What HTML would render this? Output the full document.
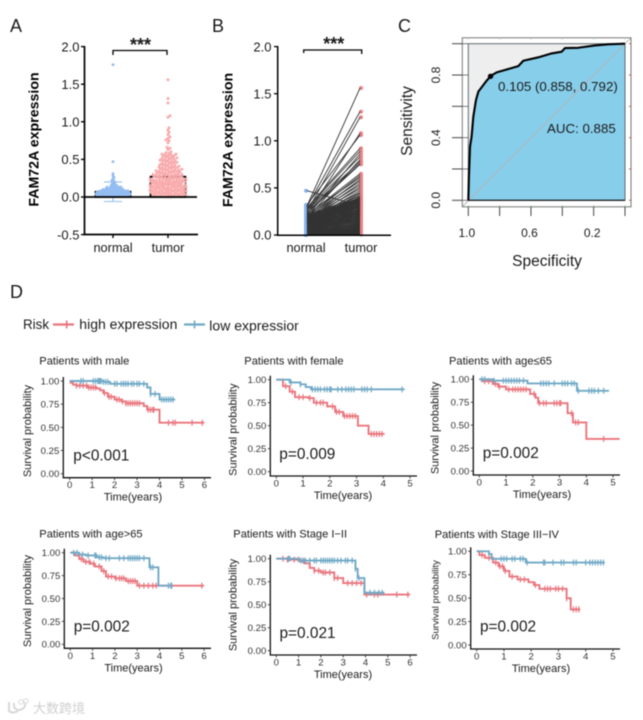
<!DOCTYPE html>
<html lang="en">
<head>
<meta charset="utf-8">
<title>FAM72A expression figure</title>
<style>
html,body{margin:0;padding:0;background:#fff;width:643px;height:720px;overflow:hidden}
svg{display:block;filter:blur(0.45px)}
text{font-family:"Liberation Sans","Noto Sans CJK SC",sans-serif;fill:#1a1a1a}
</style>
</head>
<body>
<svg id="figure" xmlns="http://www.w3.org/2000/svg" width="643" height="720" viewBox="0 0 643 720"></svg>
<script>
/* Panel A */
const groupLabelsA = ['normal', 'tumor'];
const tickLabelsA = ['-0.5', '0.0', '0.5', '1.0', '1.5', '2.0'];
const barMeansA = [0.07, 0.27];
const normalErrorA = [-0.06, 0.20];
const normalValuesA = [1.76,.47,.31,.28,.26,.24,.22,.21,.19,.18,.17,.16,.15,.15,.14,.14,.13,.13,.13,.12,.12,.12,.12,.11,.11,.11,.11,.10,.10,.10,.10,.10,.09,.09,.09,.09,.09,.09,.08,.08,.08,.08,.08,.08,.08,.07,.07,.07,.07,.07,.07,.07,.07,.06,.06,.06,.06,.06,.06,.06,.06,.06,.05,.05,.05,.05,.05,.05,.05,.05,.05,.05,.04,.04,.04,.04,.04,.04,.04,.04,.04,.04,.04,.03,.03,.03,.03,.03,.03,.03,.03,.03,.03,.03,.03,.02,.02,.02,.02,.02,.02,.02,.02,.02,.02,.02,.02,.02,.01,.01,.01,.01,.01,.01,.01,.01,.01,.01,.01,.01,.01,.01];
const tumorValuesA = [1.56,1.31,1.25,1.08,1.06,.92,.89,.86,.83,.80,.78,.76,.75,.72,.66,.65,.63,.60,.59,.58,.57,.57,.56,.56,.55,.55,.54,.53,.53,.52,.52,.51,.51,.50,.50,.49,.49,.48,.48,.47,.47,.46,.46,.45,.45,.44,.44,.43,.43,.42,.42,.41,.41,.41,.40,.40,.39,.39,.39,.38,.38,.37,.37,.37,.36,.36,.36,.35,.35,.35,.34,.34,.34,.33,.33,.33,.32,.32,.32,.31,.31,.31,.30,.30,.30,.30,.29,.29,.29,.28,.28,.28,.28,.27,.27,.27,.26,.26,.26,.26,.25,.25,.25,.25,.24,.24,.24,.24,.23,.23,.23,.23,.22,.22,.22,.22,.21,.21,.21,.21,.20,.20,.20,.20,.20,.19,.19,.19,.19,.18,.18,.18,.18,.18,.17,.17,.17,.17,.16,.16,.16,.16,.16,.15,.15,.15,.15,.15,.14,.14,.14,.14,.14,.13,.13,.13,.13,.13,.12,.12,.12,.12,.12,.11,.11,.11,.11,.11,.10,.10,.10,.10,.10,.09,.09,.09,.09,.09,.08,.08,.08,.08,.08,.07,.07,.07,.07,.06,.06,.06,.06,.06,.05,.05,.05,.05,.04,.04,.04,.04,.03,.03,.03,.03,.02,.02,.02,.02,.01,.01,.01,.01,.00,.00,.00];

/* Panel B */
const groupLabelsB = ['normal', 'tumor'];
const tickLabelsB = ['0.0', '0.5', '1.0', '1.5', '2.0'];
const pairedNormalB = [.31,.30,.25,.22,.32,.29,.28,.20,.27,.18,.26,.24,.23,.21,.19,.22,.17,.20,.16,.19,.15,.18,.14,.17,.13,.16,.47,.21,.15,.20,.14,.19,.13,.18,.12,.17,.20,.11,.16,.19,.10,.15,.18,.12,.14,.17,.09,.13,.16,.11,.12,.15,.08,.14,.10,.13,.16,.07,.12,.15,.09,.11,.14,.06,.10,.13,.08,.12,.05,.09,.11,.07,.10,.13,.04,.08,.12,.06,.09,.11,.05,.08,.10,.03,.07,.09,.04,.06,.08,.02,.07,.05,.06,.03,.04,.05,.02,.04,.03,.02,.03,.01,.02,.03,.01,.02,.01,.015,.01,.005,.01,.005,.00,.005,.00,.00,.01,.00,.005,.00];
const pairedTumorB = [1.56,1.31,1.25,1.08,1.06,.92,.89,.86,.83,.80,.78,.76,.75,.65,.63,.61,.59,.57,.55,.53,.51,.49,.47,.45,.44,.42,.31,.41,.40,.396,.392,.388,.384,.38,.376,.372,.368,.364,.36,.356,.352,.348,.344,.34,.336,.332,.328,.324,.32,.316,.312,.308,.304,.30,.296,.292,.288,.284,.28,.276,.272,.268,.264,.26,.256,.252,.248,.244,.24,.236,.232,.228,.224,.22,.216,.212,.208,.204,.20,.196,.192,.188,.184,.18,.176,.172,.168,.164,.16,.155,.15,.145,.14,.135,.13,.125,.12,.115,.11,.105,.10,.095,.09,.085,.08,.075,.07,.065,.06,.055,.05,.045,.04,.035,.03,.025,.02,.015,.01,.005];

/* Panel C */
const specTickLabels = ['1.0', '0.6', '0.2'];
const sensTickLabels = ['0.0', '0.4', '0.8'];
const specTicks = [1, .8, .6, .4, .2, 0];
const sensTicks = [0, .2, .4, .6, .8, 1];
const rocSpecificity = [1,.996,.989,.979,.968,.951,.936,.904,.883,.855,.819,.766,.681,.649,.553,.468,.404,.383,.298,.191,.106,0];
const rocSensitivity = [0,.151,.343,.406,.534,.64,.694,.736,.764,.796,.817,.832,.857,.891,.913,.938,.949,.972,.974,.989,.996,1];
const bestPoint = [0.858, 0.792];

/* Panel D: survival series */
const kmYLabels = ['0.00', '0.25', '0.50', '0.75', '1.00'];
const maleHighT = [.05,.15,.3,.8,1.2,1.35,1.5,1.7,2,2.3,2.5,3.3,3.45,4];
const maleHighS = [.98,.96,.95,.93,.92,.90,.87,.83,.80,.78,.76,.73,.69,.55];
const maleHighCens = [.3,.45,.6,.75,.85,.95,1.05,1.15,1.55,1.75,1.85,2.1,2.2,2.35,2.5,2.6,2.7,2.8,2.9,3.0,3.1,3.5,3.6,3.7,3.75,4.4,4.6,4.7,5.45,5.9];
const maleLowT = [1.5,1.8,3.45,3.6,3.75,4.0];
const maleLowS = [.99,.97,.93,.86,.86,.80];
const maleLowCens = [.5,.6,1.05,1.15,1.25,1.3,1.35,1.4,1.5,1.6,1.7,2.0,2.1,2.3,2.4,2.5,2.6,2.75,2.85,3.0,3.1,3.3,3.6,3.8,4.1,4.2,4.3,4.4,4.5,4.6];
const femaleHighT = [.25,.5,.7,1.2,1.4,1.9,2.2,2.5,3.05,3.45];
const femaleHighS = [.93,.87,.81,.80,.75,.71,.65,.605,.50,.41];
const femaleHighCens = [.35,.6,.85,1,1.25,1.5,1.65,1.75,2.1,2.25,2.35,2.55,2.65,2.75,2.85,2.95,3.55,3.65,3.75,3.85,3.95];
const femaleLowT = [.5,.9,1.1,1.3];
const femaleLowS = [.97,.95,.92,.895];
const femaleLowCens = [.55,.9,1.35,1.45,1.55,1.65,1.8,1.9,2.0,2.05,2.3,2.45,2.6,2.7,2.8,2.9,3.2,3.3,3.4,3.55,4.7];
const youngHighT = [.1,.5,.7,1,1.9,2.1,2.2,3.3,3.5,4];
const youngHighS = [.98,.95,.92,.89,.84,.80,.74,.63,.53,.35];
const youngHighCens = [.2,.35,.6,.75,1.1,1.25,1.35,1.45,1.55,1.65,1.75,2.05,2.25,2.4,2.5,2.8,2.9,3,3.05,3.45,3.6,3.7,4.65];
const youngLowT = [.5,1.8,3.65];
const youngLowS = [.985,.955,.875];
const youngLowCens = [.1,.2,.55,.9,1,1.1,1.2,1.3,1.4,1.5,1.65,2.3,2.4,2.5,2.6,2.8,3.1,3.2,3.3,3.45,3.55,3.7,4.1,4.2,4.3,4.45,4.65];
const oldHighT = [.2,.4,.6,.9,1.1,1.4,1.6,2,2.5,3];
const oldHighS = [.97,.93,.90,.88,.85,.80,.74,.72,.69,.64];
const oldHighCens = [.5,.7,.85,1.05,1.3,1.5,1.7,1.85,2.05,2.2,2.3,2.4,2.6,2.7,2.8,2.9,3.1,3.3,3.5,3.7,3.85,5.9];
const oldLowT = [.4,.7,1.2,1.5,3.55,3.95];
const oldLowS = [.98,.97,.95,.94,.84,.64];
const oldLowCens = [.15,.3,.55,.8,1.1,1.15,1.3,1.4,1.6,1.75,2.2,2.4,2.6,2.7,2.8,2.9,3,3.1,3.3,3.6,3.7,4.4,4.5,4.55];
const earlyHighT = [.5,1.1,1.3,1.5,1.7,2,2.6,3,3.95];
const earlyHighS = [.99,.97,.95,.90,.87,.85,.79,.735,.61];
const earlyHighCens = [.3,.5,.8,1,1.25,1.7,1.9,2.1,2.2,2.4,2.6,2.75,3.2,3.4,3.6,3.8,4.05,4.4,4.55,5.4,5.9];
const earlyLowT = [1,3.55,3.65,3.95];
const earlyLowS = [.98,.89,.79,.63];
const earlyLowCens = [.55,.6,1.1,1.2,1.3,1.5,1.7,1.8,2,2.1,2.2,2.3,2.4,2.5,2.6,2.75,2.9,3.1,3.2,3.4,3.55,3.7,4.2,4.4,4.6,4.75];
const lateHighT = [.1,.3,.6,.8,1,1.2,1.5,1.9,2.1,2.3,3.3,3.45];
const lateHighS = [.96,.93,.88,.84,.79,.73,.70,.67,.64,.60,.50,.38];
const lateHighCens = [.2,.45,.7,.85,.95,1.05,1.3,1.6,1.75,2.15,2.5,2.6,2.7,2.9,3.0,3.15,3.3,3.55,3.65,3.75];
const lateLowT = [.45,.55,1.8];
const lateLowS = [.97,.92,.88];
const lateLowCens = [.9,1,1.1,1.3,1.4,1.6,1.7,1.85,2.45,2.5,2.8,3.1,3.2,3.55,3.65,4,4.15,4.25,4.35,4.45,4.55,4.65];

const svg = document.getElementById('figure');
const NS = 'http://www.w3.org/2000/svg';
const RED = '#e9757e', BLUE = '#70a9c6';

function make(tag, attrs, parent, content) {
  const e = document.createElementNS(NS, tag);
  for (const k in attrs) e.setAttribute(k, attrs[k]);
  if (content !== undefined) e.textContent = content;
  (parent || svg).appendChild(e);
  return e;
}
function line(x1, y1, x2, y2, stroke, w, parent) {
  return make('line', {x1, y1, x2, y2, stroke, 'stroke-width': w}, parent);
}
function label(str, x, y, size, parent, anchor, extra) {
  return make('text', Object.assign({x, y, 'font-size': size, 'text-anchor': anchor || 'start'}, extra || {}), parent, str);
}
function rotLabel(str, x, y, size, parent, extra) {
  return make('text', Object.assign({x, y, 'font-size': size, 'text-anchor': 'middle', transform: `rotate(-90 ${x} ${y})`}, extra || {}), parent, str);
}
function group(parent) { return make('g', {}, parent); }

/* Panel letters */
[['A', 10, 32], ['B', 212, 32], ['C', 398, 32], ['D', 10, 298]].forEach(p => {
  const t = label(p[0], p[1], p[2], 18);
  
  
});

function swarm(values, cx, yFn, maxW, parent, color, name, gap) {
  const placed = [];
  const sorted = values.slice().sort((a, b) => a - b);
  sorted.forEach(v => {
    const y = yFn(v);
    let chosen = 0;
    for (let k = 0; k < 60; k++) {
      const off = (k % 2 ? 1 : -1) * Math.ceil(k / 2) * 1.0;
      if (Math.abs(off) > maxW) { break; }
      const hit = placed.some(p => Math.hypot(p[0] - off, p[1] - y) < gap);
      if (!hit) { chosen = off; break; }
    }
    placed.push([chosen, y]);
    const c = make('circle', {cx: cx + chosen, cy: y, r: 1.45, fill: color}, parent);
    
    
  });
}

/* ---------- Panel A ---------- */
(function () {
  const g = group();
  
  
  const y = v => 197 - v * 75.2;
  const cx = [113, 168];
  const colors = ['#93bdf1', '#f9a9aa'];
  barMeansA.forEach((m, i) => {
    const b = make('rect', {x: cx[i] - 17.5, y: y(m), width: 35, height: y(0) - y(m), fill: 'none', stroke: '#000', 'stroke-width': 1.7}, g);
    
    
  });
  swarm(tumorValuesA, cx[1], y, 18, g, colors[1], 'tumor-point', 2.3);
  swarm(normalValuesA, cx[0], y, 17, g, colors[0], 'normal-point', 1.8);
  const eb = group(g);
  
  
  line(cx[0], y(normalErrorA[0]), cx[0], y(normalErrorA[1]), colors[0], 1.1, eb);
  line(cx[0] - 9, y(normalErrorA[0]), cx[0] + 9, y(normalErrorA[0]), colors[0], 1.1, eb);
  line(cx[0] - 9, y(normalErrorA[1]), cx[0] + 9, y(normalErrorA[1]), colors[0], 1.1, eb);
  const ax = group(g);
  
  
  line(84.5, 46, 84.5, 235, '#000', 1.7, ax);
  line(84, 234.5, 198, 234.5, '#000', 1.7, ax);
  line(84, 197, 197, 197, '#000', 1.7, ax);
  tickLabelsA.forEach(t => {
    const v = parseFloat(t);
    line(81, y(v), 85, y(v), '#000', 1.4, ax);
    const tl = label(t, 79.5, y(v) + 4.7, 13, ax, 'end');
    
    
  });
  groupLabelsA.forEach((t, i) => {
    line(cx[i], 234, cx[i], 238, '#000', 1.4, ax);
    const tl = label(t, cx[i], 252, 12.8, ax, 'middle');
    
    
  });
  const yt = rotLabel('FAM72A expression', 38.5, 139.5, 14.2, g, {'font-weight': 'bold', style: 'fill:#000'});
  
  
  const br = make('path', {d: 'M113 55V50.5H167V55', fill: 'none', stroke: '#000', 'stroke-width': 1.3}, g);
  
  
  const st = label('***', 140.5, 51, 18, g, 'middle', {'font-weight': 'bold'});
  
  
})();

/* ---------- Panel B ---------- */
(function () {
  const g = group();
  
  
  const y = v => 235 - v * 94.2;
  const xN = 306, xT = 361;
  pairedNormalB.forEach(v => {
    const c = make('circle', {cx: xN, cy: y(v), r: 2, fill: '#8ab5f0'}, g);
    
    
  });
  pairedTumorB.forEach(v => {
    const c = make('circle', {cx: xT, cy: y(v), r: 2, fill: '#ea8488'}, g);
    
    
  });
  pairedNormalB.forEach((v, i) => {
    const l = line(xN + 1, y(v), xT - 1, y(pairedTumorB[i]), '#333', 0.9, g);
    
    
  });
  const ax = group(g);
  
  
  line(277.7, 46, 277.7, 236, '#000', 1.5, ax);
  line(277, 235.2, 391, 235.2, '#000', 1.5, ax);
  tickLabelsB.forEach(t => {
    const v = parseFloat(t);
    line(274, y(v), 278, y(v), '#000', 1.3, ax);
    const tl = label(t, 271.5, y(v) + 4.7, 13, ax, 'end');
    
    
  });
  [xN, xT].forEach((x, i) => {
    const tl = label(groupLabelsB[i], x, 252, 12.8, ax, 'middle');
    
    
  });
  const yt = rotLabel('FAM72A expression', 232.5, 140, 14.2, g, {'font-weight': 'bold', style: 'fill:#000'});
  
  
  const br = make('path', {d: 'M303.7 53V50H361.7V54', fill: 'none', stroke: '#000', 'stroke-width': 1.3}, g);
  
  
  const st = label('***', 333.7, 50, 18, g, 'middle', {'font-weight': 'bold'});
  
  
})();

/* ---------- Panel C ---------- */
(function () {
  const g = group();
  
  
  const x = s => 625 - s * 156.7;
  const y = s => 200.3 - s * 156.6;
  const curve = rocSpecificity.map((s, i) => x(s) + ' ' + y(rocSensitivity[i]));
  const upper = make('rect', {x: x(1), y: y(1), width: x(0) - x(1), height: y(0) - y(1), fill: '#eeeeee'}, g);
  
  
  const area = make('path', {d: 'M' + curve.join('L') + 'L' + x(0) + ' ' + y(0) + 'Z', fill: '#87ceeb'}, g);
  
  
  const diag = line(462.5, 206.5, 631, 37.8, '#b5b5b5', 1, g);
  
  
  const fr = make('rect', {x: x(1), y: y(1), width: x(0) - x(1), height: y(0) - y(1), fill: 'none', stroke: '#5f6a70', 'stroke-width': 1}, g);
  
  
  line(x(1), y(0), x(0), y(0), '#111', 1.2, g);
  const box = make('rect', {x: 462.3, y: 37.8, width: 168.7, height: 169, fill: 'none', stroke: '#777', 'stroke-width': 1}, g);
  
  
  const rc = make('polyline', {points: curve.join(' '), fill: 'none', stroke: '#000', 'stroke-width': 2.1, 'stroke-linejoin': 'round'}, g);
  
  
  const bp = make('circle', {cx: x(bestPoint[0]), cy: y(bestPoint[1]), r: 2.7, fill: '#000'}, g);
  
  
  specTicks.forEach(s => {
    line(x(s), 206.7, x(s), 216, '#444', 1, g);
    line(x(s), 37.8, x(s), 39.5, '#8fdc8f', .8, g);
    line(x(s), 205, x(s), 206.7, '#8fdc8f', .8, g);
  });
  sensTicks.forEach(s => {
    line(452, y(s), 462.3, y(s), '#444', 1, g);
    line(462.3, y(s), 468, y(s), '#444', .7, g);
    line(629, y(s), 631, y(s), '#b04040', .8, g);
  });
  specTickLabels.forEach(t => {
    const tl = label(t, x(parseFloat(t)) - 1.5, 237, 12, g, 'middle');
    
    
  });
  sensTickLabels.forEach(t => {
    const tl = rotLabel(t, 440, y(parseFloat(t)), 12, g);
    
    
  });
  const t1 = label('0.105 (0.858, 0.792)', 498, 91, 13.3, g);
  
  
  const t2 = label('AUC: 0.885', 547, 133, 13.3, g);
  
  
  const xt = label('Specificity', 547, 266, 15.5, g, 'middle');
  
  
  const yt = rotLabel('Sensitivity', 412, 121, 15.5, g);
  
  
})();

/* ---------- Panel D legend ---------- */
(function () {
  const g = group();
  
  
  const lt = label('Risk', 23, 329, 13.4, g);
  
  
  const k1 = group(g);
  
  
  line(53, 324.5, 74, 324.5, RED, 2.2, k1);
  line(66.7, 320.5, 66.7, 328.5, RED, 1.6, k1);
  const t1 = label('high expression', 79.3, 329, 14, g);
  
  
  const k2 = group(g);
  
  
  line(184, 324.5, 205, 324.5, BLUE, 2.2, k2);
  line(194.5, 320.5, 194.5, 328.5, BLUE, 1.6, k2);
  const clip = make('clipPath', {id: 'legend-clip'}, g);
  make('rect', {x: 205, y: 310, width: 93.5, height: 30}, clip);
  const t2 = label('low expression', 209.3, 330.7, 14, g, 'start', {'clip-path': 'url(#legend-clip)'});
  
  
})();

/* ---------- Panel D survival plots ---------- */
function stepPath(x, y, ts, ss, end) {
  let d = 'M' + x(0) + ' ' + y(1);
  ts.forEach((t, i) => { d += 'H' + x(t) + 'V' + y(ss[i]); });
  return d + 'H' + x(end);
}
function survAt(t, ts, ss) {
  let s = 1;
  ts.forEach((tt, i) => { if (t >= tt) s = ss[i]; });
  return s;
}
function drawSeries(g, x, y, ts, ss, cens, end, color, name) {
  const p = make('path', {d: stepPath(x, y, ts, ss, end), fill: 'none', stroke: color, 'stroke-width': 1.9}, g);
  
  
  cens.forEach(t => {
    const s = survAt(t, ts, ss);
    const c = line(x(t), y(s) - 3, x(t), y(s) + 3, color, 1.2, g);
    
    
  });
}
function drawKM(c) {
  const g = group();
  
  
  const x = t => c.x0 + t * c.xUnit;
  const y = s => c.y0 - s * (c.y0 - c.y1);
  drawSeries(g, x, y, c.highT, c.highS, c.highCens, c.highEnd, RED, 'high-expression');
  drawSeries(g, x, y, c.lowT, c.lowS, c.lowCens, c.lowEnd, BLUE, 'low-expression');
  const ax = group(g);
  
  
  line(c.left, c.y1 - 4, c.left, c.bottom + .5, '#111', 1.3, ax);
  line(c.left - .5, c.bottom, c.right, c.bottom, '#111', 1.3, ax);
  kmYLabels.forEach(t => {
    const v = parseFloat(t);
    line(c.left - 2.5, y(v), c.left, y(v), '#333', .9, ax);
    const tl = label(t, c.left - 4, y(v) + 3.4, 9.6, ax, 'end', {style: 'fill:#333'});
    
    
  });
  for (let i = 0; i <= c.xMax; i++) {
    line(x(i), c.bottom, x(i), c.bottom + 2.5, '#333', .9, ax);
    const tl = label(String(i), x(i), c.bottom + 10.5, 9.6, ax, 'middle', {style: 'fill:#333'});
    
    
  }
  const ti = label(c.title, c.titleX, c.titleY, 11.1, g);
  
  
  const xt = label('Time(years)', c.xTitleX, c.bottom + 23, 11, g, 'middle');
  
  
  const yt = rotLabel('Survival probability', c.yTitleX, c.yTitleY, c.yTitleSize || 11, g);
  
  
  const pv = label(c.p, c.pX, c.pY, 15.4, g);
  
  
}

drawKM({id:'male', title:'Patients with male', p:'p<0.001', titleX:39.3, titleY:364.7, pX:73.3, pY:460.7,
  x0:69.7, xUnit:22.45, xMax:6, y1:381, y0:473.7, left:63.3, bottom:477.7, right:211, xTitleX:133, yTitleX:31, yTitleY:431,
  highT:maleHighT, highS:maleHighS, highCens:maleHighCens, highEnd:6, lowT:maleLowT, lowS:maleLowS, lowCens:maleLowCens, lowEnd:4.7});
drawKM({id:'female', title:'Patients with female', p:'p=0.009', titleX:244.3, titleY:364.7, pX:279.3, pY:459,
  x0:276.3, xUnit:26.75, xMax:5, y1:379.7, y0:471.7, left:270.3, bottom:476, right:417, xTitleX:343, yTitleX:236.5, yTitleY:429.7,
  highT:femaleHighT, highS:femaleHighS, highCens:femaleHighCens, highEnd:4.05, lowT:femaleLowT, lowS:femaleLowS, lowCens:femaleLowCens, lowEnd:4.8});
drawKM({id:'age-under-65', title:'Patients with age≤65', p:'p=0.002', titleX:449, titleY:364.3, pX:482.7, pY:458,
  x0:479.3, xUnit:26.75, xMax:5, y1:379.3, y0:471, left:473.3, bottom:475, right:620, xTitleX:542, yTitleX:438.5, yTitleY:428,
  highT:youngHighT, highS:youngHighS, highCens:youngHighCens, highEnd:5.25, lowT:youngLowT, lowS:youngLowS, lowCens:youngLowCens, lowEnd:4.85});
drawKM({id:'age-over-65', title:'Patients with age>65', p:'p=0.002', titleX:39.3, titleY:537.7, pX:73.7, pY:631.7,
  x0:70.3, xUnit:22.3, xMax:6, y1:552.7, y0:644.3, left:64.3, bottom:648.3, right:211, xTitleX:133.5, yTitleX:31, yTitleY:601,
  highT:oldHighT, highS:oldHighS, highCens:oldHighCens, highEnd:6, lowT:oldLowT, lowS:oldLowS, lowCens:oldLowCens, lowEnd:4.55});
drawKM({id:'stage-1-2', title:'Patients with Stage I−II', p:'p=0.021', titleX:233.3, titleY:537.7, pX:279.5, pY:638,
  x0:276.3, xUnit:22.3, xMax:6, y1:558.7, y0:650.7, left:270.3, bottom:655, right:417, xTitleX:343, yTitleX:236.5, yTitleY:605,
  highT:earlyHighT, highS:earlyHighS, highCens:earlyHighCens, highEnd:6, lowT:earlyLowT, lowS:earlyLowS, lowCens:earlyLowCens, lowEnd:4.85});
drawKM({id:'stage-3-4', title:'Patients with Stage III−IV', p:'p=0.002', titleX:434.7, titleY:538, pX:480, pY:631.7,
  x0:476.7, xUnit:27.25, xMax:5, y1:551.3, y0:645, left:470.7, bottom:649, right:620, xTitleX:541, yTitleX:438.5, yTitleY:600, yTitleSize:9.5,
  highT:lateHighT, highS:lateHighS, highCens:lateHighCens, highEnd:3.8, lowT:lateLowT, lowS:lateLowS, lowCens:lateLowCens, lowEnd:4.7});

/* Watermark */
(function () {
  const g = group();
  
  
  make('path', {d: 'M9 702V711Q12 714 18 711M14 703Q13 710 20 710Q26 708 25 703', fill: 'none', stroke: '#d8d8d8', 'stroke-width': 2}, g);
  make('circle', {cx: 21, cy: 702, r: 2.2, fill: 'none', stroke: '#d8d8d8', 'stroke-width': 1}, g);
  make('circle', {cx: 26, cy: 701, r: 2.2, fill: 'none', stroke: '#d8d8d8', 'stroke-width': 1}, g);
  const t = label('大数跨境', 33, 713, 13, g, 'start', {style: 'fill:#cfcfcf'});
  
  
})();
</script>
</body>
</html>
